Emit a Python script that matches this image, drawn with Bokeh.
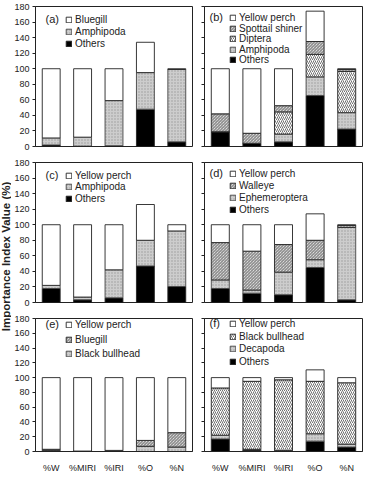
import math
from bokeh.plotting import figure
from bokeh.models import (ColumnDataSource, FactorRange, Range1d, Legend, LegendItem,
                          Label, SingleIntervalTicker, CustomJSTickFormatter)
from bokeh.layouts import row, column
from bokeh.embed import file_html
from bokeh.resources import INLINE

# ---------------- data ----------------
cats = ["%W", "%MIRI", "%IRI", "%O", "%N"]

a_others = [2, 0.5, 1, 48, 6]
a_amphipoda = [9, 11.5, 58, 47, 93]
a_bluegill = [89, 88, 41, 39, 1]

b_others = [19, 4, 6, 65.5, 22.5]
b_amphipoda = [0, 0, 10, 24, 21]
b_diptera = [0, 0, 28.5, 29, 53]
b_spottail = [23, 13, 8, 16.5, 2.5]
b_yellow_perch = [58, 83, 47.5, 39, 1]

c_others = [18, 3.5, 6, 47, 20.5]
c_amphipoda = [4, 3.5, 36, 33, 71.5]
c_yellow_perch = [78, 93, 58, 46, 8]

d_others = [18, 12, 10, 45, 3.5]
d_ephemeroptera = [11, 4, 29, 10, 93]
d_walleye = [48, 50, 35.5, 25, 2.5]
d_yellow_perch = [23, 34, 25.5, 34, 1]

e_black_bullhead = [1.5, 0.3, 1, 7, 6]
e_bluegill = [1.5, 0.3, 0.5, 8, 19.5]
e_yellow_perch = [97, 99.4, 98.5, 85, 74.5]

f_others = [17, 2, 1, 14, 6]
f_decapoda = [5, 1, 0.5, 10, 4]
f_black_bullhead = [64, 92, 95.5, 71, 83]
f_yellow_perch = [14, 5, 3, 15.5, 7]

y_label = "Importance Index Value (%)"

# ---------------- styles ----------------
FONT = "Liberation Sans"
STYLES = {
    "white": dict(fill_color="white", hatch_pattern=None),
    "black": dict(fill_color="black", hatch_pattern=None),
    "gray": dict(fill_color="#cdcdcd", hatch_pattern="dot"),
    "back": dict(fill_color="white", hatch_pattern="left_diagonal_line"),
    "fwd": dict(fill_color="white", hatch_pattern="right_diagonal_line"),
}

FRAME_H = 140
LEFT_W, RIGHT_W = 160, 158
LABEL_H = 12
ITEM_ACT = 14   # approximate rendered height of a one-item legend


def make_panel(letter, series, left, bottom_row, top_border, step, first_center):
    keys = ["s%d" % i for i in range(len(series))]
    data = {"cat": cats}
    for k, (_, vals, _) in zip(keys, series):
        data[k] = vals
    src = ColumnDataSource(data)

    bl = 21 if left else 8
    br = 4 if left else 1
    bb = 17 if bottom_row else 5
    fw = LEFT_W if left else RIGHT_W
    p = figure(width=bl + fw + br, height=top_border + FRAME_H + bb,
               x_range=FactorRange(*cats), y_range=Range1d(0, 180),
               output_backend="svg", toolbar_location=None,
               min_border_left=bl, min_border_right=br,
               min_border_top=top_border, min_border_bottom=bb)
    p.x_range.range_padding = 0
    p.xgrid.visible = False
    p.ygrid.visible = False
    p.outline_line_color = "#222222"
    p.outline_line_width = 1

    fills = [STYLES[s]["fill_color"] for (_, _, s) in series]
    hatches = [STYLES[s]["hatch_pattern"] for (_, _, s) in series]
    renderers = p.vbar_stack(keys, x="cat", width=0.57, source=src,
                             fill_color=fills, hatch_pattern=hatches,
                             hatch_color="#333333", hatch_scale=4,
                             hatch_weight=0.7,
                             line_color="#222222", line_width=0.9)
    for r, (_, _, s) in zip(renderers, series):
        if s == "gray":
            r.glyph.hatch_color = "#9a9a9a"
            r.glyph.hatch_scale = 3
            r.glyph.hatch_weight = 0.5
            r.glyph.line_color = "#444444"
        if s == "back":
            r.glyph.hatch_scale = 3

    ya = p.yaxis[0]
    ya.ticker = SingleIntervalTicker(interval=20)
    ya.minor_tick_line_color = None
    ya.major_tick_out = 3
    ya.major_tick_in = 0
    ya.axis_line_color = "#222222"
    ya.major_tick_line_color = "#222222"
    ya.major_label_text_font = FONT
    ya.major_label_text_font_size = "9px"
    ya.major_label_text_color = "#222222"
    ya.major_label_standoff = 2
    if not left:
        ya.formatter = CustomJSTickFormatter(code="return ''")

    xa = p.xaxis[0]
    if bottom_row:
        xa.major_tick_line_color = None
        xa.axis_line_color = "#222222"
        xa.major_label_text_font = FONT
        xa.major_label_text_font_size = "9px"
        xa.major_label_text_color = "#222222"
        xa.major_label_standoff = 5
    else:
        xa.visible = False

    # one single-item legend per entry, top entry first
    gx = 30 if left else 25
    entries = list(zip(series, renderers))[::-1]
    for i, ((lab, _, _), r) in enumerate(entries):
        center = first_center + i * step
        leg = Legend(items=[LegendItem(label=lab, renderers=[r])],
                     location=(gx, FRAME_H - center - ITEM_ACT / 2),
                     glyph_width=7, glyph_height=7, label_height=LABEL_H,
                     label_standoff=3, spacing=0, padding=0, margin=0,
                     label_text_font=FONT, label_text_font_size="10px",
                     label_text_color="#222222",
                     border_line_color=None, background_fill_alpha=0)
        p.add_layout(leg, "center")

    p.add_layout(Label(x=gx - 20, y=FRAME_H - first_center, x_units="screen",
                       y_units="screen", text="(%s)" % letter,
                       text_font=FONT, text_font_size="11px",
                       text_baseline="middle", text_color="#222222"))
    return p


pa = make_panel("a", [("Others", a_others, "black"),
                      ("Amphipoda", a_amphipoda, "gray"),
                      ("Bluegill", a_bluegill, "white")], True, False, 6, 12, 12)
pb = make_panel("b", [("Others", b_others, "black"),
                      ("Amphipoda", b_amphipoda, "gray"),
                      ("Diptera", b_diptera, "fwd"),
                      ("Spottail shiner", b_spottail, "back"),
                      ("Yellow perch", b_yellow_perch, "white")], False, False, 6, 10.5, 10.5)
pc = make_panel("c", [("Others", c_others, "black"),
                      ("Amphipoda", c_amphipoda, "gray"),
                      ("Yellow perch", c_yellow_perch, "white")], True, False, 11, 11.5, 12)
pd = make_panel("d", [("Others", d_others, "black"),
                      ("Ephemeroptera", d_ephemeroptera, "gray"),
                      ("Walleye", d_walleye, "back"),
                      ("Yellow perch", d_yellow_perch, "white")], False, False, 11, 12, 10.5)
pe = make_panel("e", [("Black bullhead", e_black_bullhead, "gray"),
                      ("Bluegill", e_bluegill, "back"),
                      ("Yellow perch", e_yellow_perch, "white")], True, True, 11, 14.5, 12.5)
pf = make_panel("f", [("Others", f_others, "black"),
                      ("Decapoda", f_decapoda, "gray"),
                      ("Black bullhead", f_black_bullhead, "fwd"),
                      ("Yellow perch", f_yellow_perch, "white")], False, True, 11, 12.5, 11.5)

total_h = pa.height + pc.height + pe.height
yl = figure(width=11, height=total_h, output_backend="svg", toolbar_location=None,
            min_border=0, x_axis_type=None, y_axis_type=None,
            x_range=Range1d(0, 1), y_range=Range1d(0, 1))
yl.outline_line_color = None
yl.xgrid.visible = False
yl.ygrid.visible = False
yl.add_layout(Label(x=5.5, y=total_h - 256, x_units="screen", y_units="screen",
                    text=y_label, angle=math.pi / 2, text_align="center",
                    text_baseline="middle", text_font=FONT,
                    text_font_size="11.5px", text_font_style="bold",
                    text_color="#222222"))

layout = row(yl, column(row(pa, pb), row(pc, pd), row(pe, pf)))

open("out.html", "w").write(file_html(layout, INLINE))
